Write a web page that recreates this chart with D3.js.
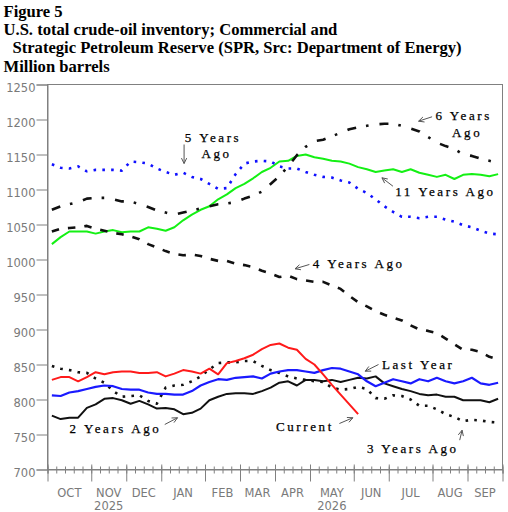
<!DOCTYPE html>
<html><head><meta charset="utf-8">
<script src="https://cdn.jsdelivr.net/npm/d3@7"></script>
<style>body{margin:0;background:#fff}svg{display:block}</style>
</head><body>
<script>
// ---------- data ----------
const titleLines = ["Figure 5",
  "U.S. total crude-oil inventory; Commercial and",
  "Strategic Petroleum Reserve (SPR, Src: Department of Energy)",
  "Million barrels"];
const months = ["OCT","NOV","DEC","JAN","FEB","MAR","APR","MAY","JUN","JUL","AUG","SEP"];
const monthStartWeek = [0,5,9,13,18,22,26,30,35,39,44,48,52];
const yearLabels = [["NOV","2025"],["MAY","2026"]];
const yTicks = [700,750,800,850,900,950,1000,1050,1100,1150,1200,1250];

const current = [828,832,832,826,832,839,836,839,840,840,838,838,839,833,837,842,840,837,844,836,852,855,859,864,872,878,880,874,871,858,850,836,821,807,793,779];
const lastYear = [806,805,810,812,815,818,820,819,815,814,814,810,808,808,807,807,812,820,825,829,828,831,832,833,830,837,840,842,842,840,838,842,845,844,840,836,826,819,824,829,826,823,829,826,831,826,823,826,831,823,821,824];
const twoYearsAgo = [777,772,774,774,788,793,801,802,799,794,798,793,787,788,786,779,781,787,799,804,808,809,809,808,812,817,824,826,820,828,828,826,828,825,828,831,830,833,823,819,815,812,808,806,807,804,804,799,799,799,796,801];
const threeYearsAgo = [848,844,842,839,838,830,824,812,804,805,806,798,794,817,820,821,826,833,843,852,853,853,855,855,848,842,838,833,830,828,826,825,817,814,815,818,815,802,801,806,805,800,791,791,786,779,775,769,771,770,768,767];
const fourYearsAgo = [1040,1044,1045,1046,1048,1044,1041,1038,1036,1033,1029,1022,1017,1012,1008,1006,1007,1005,1001,998,998,994,992,989,984,980,975,977,972,970,968,968,963,958,948,939,933,926,921,917,913,906,900,898,895,887,879,871,871,868,861,857];
const fiveYearsAgo = [1136,1131,1130,1133,1126,1128,1128,1128,1127,1140,1139,1137,1130,1125,1121,1124,1118,1115,1108,1101,1102,1122,1137,1140,1141,1140,1133,1130,1130,1125,1121,1118,1117,1113,1110,1101,1095,1086,1076,1068,1061,1061,1059,1061,1061,1057,1054,1049,1046,1041,1037,1036];
const sixYearsAgo = [1071,1076,1079,1082,1087,1088,1088,1086,1083,1083,1079,1075,1070,1067,1064,1067,1070,1073,1076,1079,1080,1082,1087,1091,1097,1108,1119,1133,1149,1161,1169,1171,1176,1181,1186,1189,1191,1193,1194,1194,1191,1187,1183,1175,1167,1162,1158,1150,1148,1144,1141,1138];
const elevenYearsAgo = [1022,1032,1040,1040,1040,1037,1040,1042,1039,1040,1040,1046,1044,1041,1046,1056,1064,1071,1076,1086,1093,1102,1108,1116,1125,1131,1140,1141,1148,1150,1146,1144,1141,1140,1137,1132,1129,1125,1127,1129,1125,1129,1124,1121,1118,1121,1115,1121,1122,1121,1119,1122];

// ---------- drawing ----------
const W = 508, H = 512;
const svg = d3.select("body").append("svg").attr("width", W).attr("height", H);
const x = d3.scaleLinear().domain([0, 52]).range([47.5, 502.5]);
const y = d3.scaleLinear().domain([700, 1250]).range([469.5, 84.5]);
const AXIS = "#808080";
const LABEL = "#7a7a7a";

// title
svg.append("g").selectAll("text").data(titleLines).join("text")
  .attr("x", (d, i) => i === 2 ? 12.5 : 3.5)
  .attr("y", (d, i) => 16.7 + i * 18.35)
  .attr("font-family", "'Liberation Serif','Times New Roman',serif")
  .attr("font-weight", "bold").attr("font-size", 16.6).attr("fill", "#000")
  .text(d => d);

// frame
svg.append("rect").attr("x", x(0)).attr("y", y(1250))
  .attr("width", x(52) - x(0)).attr("height", y(700) - y(1250))
  .attr("fill", "none").attr("stroke", AXIS).attr("stroke-width", 1);

// y axis
const yAxis = svg.append("g").attr("transform", `translate(${x(0)},0)`)
  .call(d3.axisLeft(y).tickValues(yTicks).tickSize(11).tickPadding(1).tickFormat(d3.format("d")));
yAxis.select(".domain").attr("stroke", AXIS);
yAxis.selectAll(".tick line").attr("stroke", AXIS);
yAxis.selectAll(".tick text").attr("fill", LABEL).attr("font-family", "'DejaVu Sans',sans-serif")
  .attr("font-size", 11.5).attr("dy", 6.5);

// x axis: weekly minor ticks, month major ticks
const xg = svg.append("g").attr("transform", `translate(0,${y(700)})`);
xg.append("g").call(d3.axisBottom(x).tickValues(d3.range(0, 53)).tickSize(4).tickFormat(""))
  .call(g => { g.select(".domain").attr("stroke", AXIS);
               g.selectAll(".tick line").attr("stroke", AXIS).attr("y1", -3); });
xg.append("g").call(d3.axisBottom(x).tickValues(monthStartWeek).tickSize(12).tickFormat(""))
  .call(g => { g.select(".domain").remove();
               g.selectAll(".tick line").attr("stroke", AXIS).attr("y1", -5); });

const monthMid = months.map((m, i) => (monthStartWeek[i] + monthStartWeek[i + 1]) / 2);
svg.append("g").selectAll("text").data(months).join("text")
  .attr("x", (d, i) => x(monthMid[i])).attr("y", 497)
  .attr("text-anchor", "middle").attr("fill", LABEL)
  .attr("font-family", "'DejaVu Sans',sans-serif").attr("font-size", 11.5)
  .text(d => d);
svg.append("g").selectAll("text").data(yearLabels).join("text")
  .attr("x", d => x(monthMid[months.indexOf(d[0])])).attr("y", 510)
  .attr("text-anchor", "middle").attr("fill", LABEL)
  .attr("font-family", "'DejaVu Sans',sans-serif").attr("font-size", 11.5)
  .text(d => d[1]);

// series
const line = d3.line().x((d, i) => x(i + 0.5)).y(d => y(d));
const series = [
  {data: elevenYearsAgo, color: "#14f014", w: 2, dash: null},
  {data: fiveYearsAgo,   color: "#1010ff", w: 2.6, dash: "2.6,6.2"},
  {data: sixYearsAgo,    color: "#111",    w: 2.6, dash: "9,10,2.6,11"},
  {data: fourYearsAgo,   color: "#111",    w: 2.6, dash: "7.5,9"},
  {data: threeYearsAgo,  color: "#111",    w: 2.6, dash: "2.6,6.2"},
  {data: twoYearsAgo,    color: "#111",    w: 2, dash: null},
  {data: lastYear,       color: "#1a1aff", w: 2.2, dash: null},
  {data: current,        color: "#ff1a1a", w: 2, dash: null}
];
svg.append("g").selectAll("path").data(series).join("path")
  .attr("d", s => line(s.data)).attr("fill", "none")
  .attr("stroke", s => s.color).attr("stroke-width", s => s.w)
  .attr("stroke-dasharray", s => s.dash).attr("stroke-linejoin", "round");

// annotations (positions in data units: week, million barrels)
const notes = [
  {t: [["5 Years", 15.69, 1168.1], ["Ago", 17.6, 1144.3]], a: [15.61, 1164.3, 15.61, 1137.1]},
  {t: [["6 Years", 44.33, 1199], ["Ago", 46.24, 1174.7]], a: [43.95, 1203.9, 42.41, 1197.6]},
  {t: [["11 Years Ago", 39.74, 1090.4]], a: [39.48, 1104.7, 38.22, 1116.7]},
  {t: [["4 Years Ago", 30.32, 988.1]], a: [29.93, 992.9, 28.29, 986.7]},
  {t: [["Last Year", 38.22, 842.9]], a: [37.83, 850, 36.31, 840.4]},
  {t: [["Current", 26.11, 754.7]], a: [33.36, 765.7, 34.9, 773.9]},
  {t: [["3 Years Ago", 36.5, 723.9]], a: [47.11, 741.9, 47.38, 756.1]},
  {t: [["2 Years Ago", 2.52, 752.4]], a: [13.4, 764.3, 14.86, 773.9]}
];
const ann = svg.append("g");
notes.forEach(n => {
  n.t.forEach(([s, wk, v]) => {
    ann.append("text").attr("x", x(wk)).attr("y", y(v))
      .attr("font-family", "'Liberation Serif','Times New Roman',serif")
      .attr("font-size", 13).attr("letter-spacing", 2.6).attr("fill", "#000")
      .attr("stroke", "#000").attr("stroke-width", 0.25)
      .text(s);
  });
  const [x1, y1, x2, y2] = [x(n.a[0]), y(n.a[1]), x(n.a[2]), y(n.a[3])];
  const ang = Math.atan2(y2 - y1, x2 - x1), L = 6, sp = 0.45;
  const p = `M${x1},${y1}L${x2},${y2}` +
    `M${x2 - L * Math.cos(ang - sp)},${y2 - L * Math.sin(ang - sp)}L${x2},${y2}` +
    `L${x2 - L * Math.cos(ang + sp)},${y2 - L * Math.sin(ang + sp)}`;
  ann.append("path").attr("d", p).attr("fill", "none").attr("stroke", "#555").attr("stroke-width", 1);
});
</script>
</body></html>
